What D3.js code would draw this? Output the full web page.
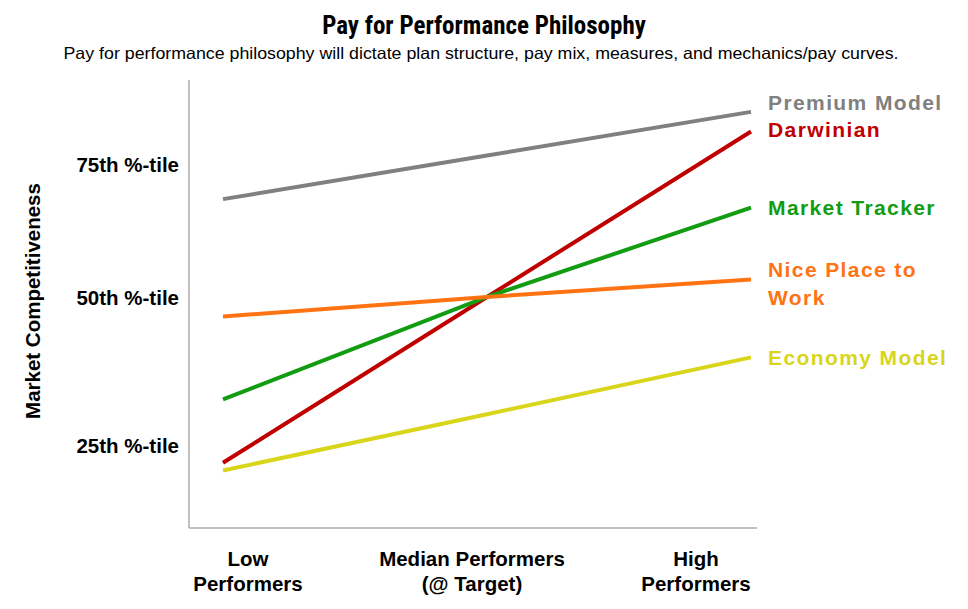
<!DOCTYPE html>
<html><head><meta charset="utf-8">
<script src="https://cdn.jsdelivr.net/npm/d3@7"></script>
<style>
body{margin:0;background:#fff;}
svg{display:block;}
</style></head>
<body>
<svg id="chart" width="968" height="609"></svg>
<script>
// ---- data ----
const categories = ["Low", "Median", "High"];
const categoryLabels = [["Low", "Performers"], ["Median Performers", "(@ Target)"], ["High", "Performers"]];
const seriesNames = ["Premium Model", "Darwinian", "Market Tracker", "Nice Place to Work", "Economy Model"];
const seriesLabelLines = [["Premium Model"], ["Darwinian"], ["Market Tracker"], ["Nice Place to", "Work"], ["Economy Model"]];
const premiumValues = [68.4, 76.6, 84.8];
const darwinianValues = [22.0, 50.0, 81.1];
const marketTrackerValues = [32.7, 50.0, 66.8];
const nicePlaceValues = [46.7, 50.0, 53.3];
const economyValues = [20.7, 30.2, 39.8];
const yTickValues = [25, 50, 75];
const yTickLabels = ["25th %-tile", "50th %-tile", "75th %-tile"];
const titleText = "Pay for Performance Philosophy";
const subtitleText = "Pay for performance philosophy will dictate plan structure, pay mix, measures, and mechanics/pay curves.";
const yAxisTitle = "Market Competitiveness";

// ---- styles / layout ----
const colors = ["#808080", "#C00000", "#119C11", "#FF7312", "#D9D51A"];
const labelDy = [-9, -2, 0, -10, 0];
const seriesValues = [premiumValues, darwinianValues, marketTrackerValues, nicePlaceValues, economyValues];

const svg = d3.select("#chart");
const plot = {left: 189, right: 757, top: 80, bottom: 528};

const x = d3.scalePoint().domain(categories).range([223, 751]);
const xLabel = d3.scalePoint().domain(categories).range([248, 696]);
const y = d3.scaleLinear().domain([25, 50, 75]).range([445, 297, 164]);

const font = "'Liberation Sans', Arial, sans-serif";

// title
svg.append("text").attr("x", 484).attr("y", 34).attr("text-anchor", "middle")
  .attr("font-family", "'Liberation Sans Narrow', 'Roboto Condensed', Arial, sans-serif")
  .attr("font-weight", "bold").attr("font-size", 25).attr("fill", "#000")
  .text(titleText);
svg.append("text").attr("x", 481).attr("y", 59).attr("text-anchor", "middle")
  .attr("font-family", font)
  .attr("font-size", 16.5).attr("fill", "#000")
  .attr("textLength", 835).attr("lengthAdjust", "spacingAndGlyphs")
  .text(subtitleText);

// axes lines
const axisColor = "#ABABAB";
svg.append("line").attr("x1", plot.left).attr("x2", plot.left).attr("y1", plot.top).attr("y2", plot.bottom)
  .attr("stroke", axisColor).attr("stroke-width", 1.5);
svg.append("line").attr("x1", plot.left).attr("x2", plot.right).attr("y1", plot.bottom).attr("y2", plot.bottom)
  .attr("stroke", axisColor).attr("stroke-width", 1.5);

// y tick labels
const yAxis = d3.axisLeft(y).tickValues(yTickValues).tickSize(0).tickPadding(0)
  .tickFormat((d, i) => yTickLabels[i]);
const gy = svg.append("g").attr("transform", "translate(179,0)").call(yAxis);
gy.select(".domain").remove();
gy.selectAll("text").attr("font-family", font)
  .attr("font-weight", "bold").attr("font-size", 20.5).attr("fill", "#000").attr("dy", "0.35em");

// y axis title
svg.append("text").attr("transform", "translate(40,301) rotate(-90)").attr("text-anchor", "middle")
  .attr("font-family", font)
  .attr("font-weight", "bold").attr("font-size", 20.5).attr("fill", "#000")
  .text(yAxisTitle);

// x category labels
const gx = svg.append("g");
categories.forEach((c, i) => {
  const t = gx.append("text").attr("x", xLabel(c)).attr("y", 566).attr("text-anchor", "middle")
    .attr("font-family", font)
    .attr("font-weight", "bold").attr("font-size", 20.5).attr("fill", "#000");
  categoryLabels[i].forEach((line, j) => {
    t.append("tspan").attr("x", xLabel(c)).attr("dy", j === 0 ? 0 : 25).text(line);
  });
});

// lines
const lineGen = d3.line().x((d, i) => x(categories[i])).y(d => y(d));
seriesValues.forEach((vals, s) => {
  svg.append("path").datum(vals).attr("d", lineGen)
    .attr("fill", "none").attr("stroke", colors[s]).attr("stroke-width", 4)
    .attr("stroke-linecap", "butt");
});

// series labels
seriesValues.forEach((vals, s) => {
  const endY = y(vals[vals.length - 1]) + labelDy[s];
  const t = svg.append("text").attr("x", 768).attr("y", endY)
    .attr("font-family", font)
    .attr("font-weight", "bold").attr("font-size", 21).attr("fill", colors[s])
    .attr("letter-spacing", 1.4);
  seriesLabelLines[s].forEach((line, j) => {
    t.append("tspan").attr("x", 768).attr("dy", j === 0 ? "0.35em" : 28).text(line);
  });
});
</script>
</body></html>
